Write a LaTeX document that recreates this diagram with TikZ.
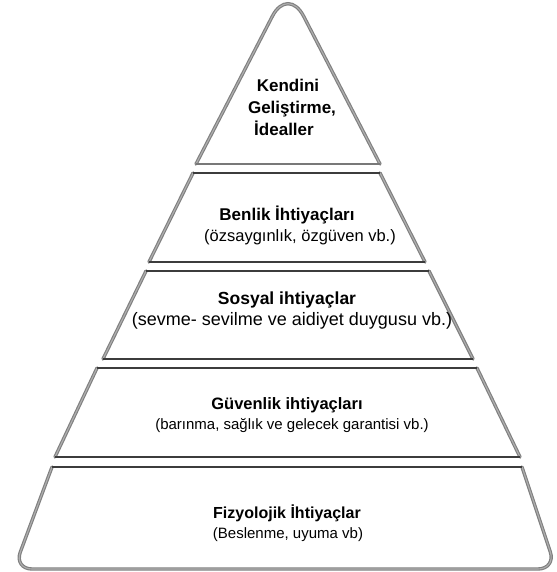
\documentclass[tikz,border=0pt]{standalone}
\usepackage{fontspec}
\setmainfont{Liberation Sans}
\begin{document}
\begin{tikzpicture}[x=1pt,y=-1pt,
  sideline/.style={draw={rgb,255:red,128;green,128;blue,128},line width=3.4pt,line cap=round},
  sideinner/.style={draw={rgb,255:red,175;green,175;blue,175},line width=1.1pt},
  edgeline/.style={draw={rgb,255:red,60;green,60;blue,60},line width=1.2pt},
  ttl/.style={font=\bfseries,inner sep=0pt,anchor=base},
  sub/.style={inner sep=0pt,anchor=base}]
\useasboundingbox (0,0) rectangle (556,572);
% level 1: triangle with rounded top
\coordinate (a1) at (196,164);
\coordinate (a2) at (380,164);
\coordinate (ap) at (288,-14);
\fill[white] (a1) [rounded corners=34pt] -- (ap) [sharp corners] -- (a2) -- cycle;
\draw[sideline] (a1) [rounded corners=34pt] -- (ap) [sharp corners] -- (a2);
\draw[sideinner] (a1) [rounded corners=34pt] -- (ap) [sharp corners] -- (a2);
\draw[draw={rgb,255:red,120;green,120;blue,120},line width=1.5pt] (a1) -- (a2);
% level 2
\coordinate (b1) at (193,173); \coordinate (b2) at (380,173);
\coordinate (b3) at (425,262); \coordinate (b4) at (149,262);
\fill[white] (b1) -- (b2) -- (b3) -- (b4) -- cycle;
\draw[sideline] (b1) -- (b4); \draw[sideline] (b2) -- (b3);
\draw[sideinner] (b1) -- (b4); \draw[sideinner] (b2) -- (b3);
\draw[edgeline] (b1) -- (b2); \draw[edgeline] (b4) -- (b3);
% level 3
\coordinate (c1) at (146,271); \coordinate (c2) at (429,271);
\coordinate (c3) at (473,359); \coordinate (c4) at (103,359);
\fill[white] (c1) -- (c2) -- (c3) -- (c4) -- cycle;
\draw[sideline] (c1) -- (c4); \draw[sideline] (c2) -- (c3);
\draw[sideinner] (c1) -- (c4); \draw[sideinner] (c2) -- (c3);
\draw[edgeline] (c1) -- (c2); \draw[edgeline] (c4) -- (c3);
% level 4
\coordinate (d1) at (97,368); \coordinate (d2) at (477,368);
\coordinate (d3) at (520,457); \coordinate (d4) at (55,457);
\fill[white] (d1) -- (d2) -- (d3) -- (d4) -- cycle;
\draw[sideline] (d1) -- (d4); \draw[sideline] (d2) -- (d3);
\draw[sideinner] (d1) -- (d4); \draw[sideinner] (d2) -- (d3);
\draw[edgeline] (d1) -- (d2); \draw[edgeline] (d4) -- (d3);
% level 5 with rounded bottom
\coordinate (e1) at (52,467); \coordinate (e2) at (522,467);
\coordinate (e3) at (556,569); \coordinate (e4) at (14,569);
\fill[white] (e1) -- (e2) [rounded corners=18pt] -- (e3) -- (e4) [sharp corners] -- cycle;
\draw[sideline] (e2) [rounded corners=18pt] -- (e3) -- (e4) [sharp corners] -- (e1);
\draw[sideinner] (e2) [rounded corners=18pt] -- (e3) -- (e4) [sharp corners] -- (e1);
\draw[edgeline] (e1) -- (e2);
% texts
\node[ttl,font=\fontsize{17}{20}\selectfont\bfseries] (t1a) at (288,92) {Kendini};
\node[ttl,font=\fontsize{17}{20}\selectfont\bfseries] (t1b) at (292,114) {Geliştirme,};
\node[ttl,font=\fontsize{17}{20}\selectfont\bfseries] (t1c) at (284,136) {İdealler};
\node[ttl,font=\fontsize{17}{20}\selectfont\bfseries] (t2) at (287,220) {Benlik İhtiyaçları};
\node[sub,font=\fontsize{16.5}{20}\selectfont] (s2) at (300,241) {(özsaygınlık, özgüven vb.)};
\node[ttl,font=\fontsize{17.5}{20}\selectfont\bfseries] (t3) at (287,304) {Sosyal ihtiyaçlar};
\node[sub,font=\fontsize{18}{20}\selectfont] (s3) at (292,325) {(sevme- sevilme ve aidiyet duygusu vb.)};
\node[ttl,font=\fontsize{16.5}{20}\selectfont\bfseries] (t4) at (287,409) {Güvenlik ihtiyaçları};
\node[sub,font=\fontsize{15}{20}\selectfont] (s4) at (292,429) {(barınma, sağlık ve gelecek garantisi vb.)};
\node[ttl,font=\fontsize{16}{20}\selectfont\bfseries] (t5) at (287,518) {Fizyolojik İhtiyaçlar};
\node[sub,font=\fontsize{15}{20}\selectfont] (s5) at (288,538) {(Beslenme, uyuma vb)};
\end{tikzpicture}
\end{document}
